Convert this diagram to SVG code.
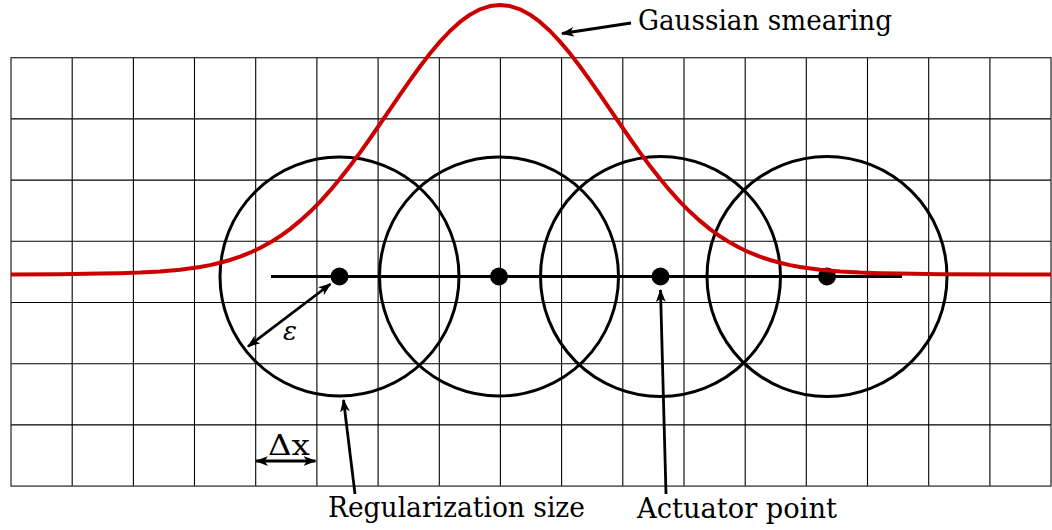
<svg xmlns="http://www.w3.org/2000/svg" width="1052" height="530" viewBox="0 0 1052 530">
  <style>
    .grid line { stroke: #000; stroke-width: 1.1; }
    .border { fill: none; stroke: #333; stroke-width: 1.3; }
    .circ { fill: none; stroke: #000; stroke-width: 3; }
    .axis { stroke: #000; stroke-width: 3; }
    .dot { fill: #000; }
    .gauss { fill: none; stroke: #cc0000; stroke-width: 4; stroke-linejoin: round; stroke-linecap: butt; }
    .arr { fill: none; stroke: #000; stroke-width: 2.8; }
    .lbl { font-family: "DejaVu Serif", serif; font-size: 27px; fill: #000; }
    .eps { font-family: "DejaVu Serif", serif; font-size: 26px; font-style: italic; fill: #000; }
  </style>
  <defs>
    <marker id="ah" viewBox="0 0 12 10" refX="11" refY="5" markerWidth="13" markerHeight="11" markerUnits="userSpaceOnUse" orient="auto-start-reverse">
      <path d="M0,0.5 L12,5 L0,9.5 L3,5 Z" fill="#000"/>
    </marker>
  </defs>

  <g id="grid" class="grid">
    <line x1="72.2" y1="57.7" x2="72.2" y2="486.1"/>
    <line x1="133.4" y1="57.7" x2="133.4" y2="486.1"/>
    <line x1="194.5" y1="57.7" x2="194.5" y2="486.1"/>
    <line x1="255.7" y1="57.7" x2="255.7" y2="486.1"/>
    <line x1="316.9" y1="57.7" x2="316.9" y2="486.1"/>
    <line x1="378.1" y1="57.7" x2="378.1" y2="486.1"/>
    <line x1="439.3" y1="57.7" x2="439.3" y2="486.1"/>
    <line x1="500.4" y1="57.7" x2="500.4" y2="486.1"/>
    <line x1="561.6" y1="57.7" x2="561.6" y2="486.1"/>
    <line x1="622.8" y1="57.7" x2="622.8" y2="486.1"/>
    <line x1="684" y1="57.7" x2="684" y2="486.1"/>
    <line x1="745.2" y1="57.7" x2="745.2" y2="486.1"/>
    <line x1="806.3" y1="57.7" x2="806.3" y2="486.1"/>
    <line x1="867.5" y1="57.7" x2="867.5" y2="486.1"/>
    <line x1="928.7" y1="57.7" x2="928.7" y2="486.1"/>
    <line x1="989.9" y1="57.7" x2="989.9" y2="486.1"/>
    <line x1="11" y1="118.9" x2="1051" y2="118.9"/>
    <line x1="11" y1="180.1" x2="1051" y2="180.1"/>
    <line x1="11" y1="241.3" x2="1051" y2="241.3"/>
    <line x1="11" y1="302.5" x2="1051" y2="302.5"/>
    <line x1="11" y1="363.7" x2="1051" y2="363.7"/>
    <line x1="11" y1="424.9" x2="1051" y2="424.9"/>
    <rect class="border" x="11" y="57.7" width="1040" height="428.4"/>
  </g>

  <g id="regions">
    <circle id="circle1" class="circ" cx="339.5" cy="276.5" r="119.5"/>
    <circle id="circle2" class="circ" cx="499" cy="276.5" r="119.5"/>
    <circle id="circle3" class="circ" cx="660.5" cy="276.5" r="120"/>
    <circle id="circle4" class="circ" cx="827" cy="276.5" r="120"/>
  </g>

  <g id="actuator-line">
    <line class="axis" x1="271" y1="276.5" x2="902" y2="276.5"/>
  </g>

  <g id="actuators">
    <circle id="pt1" class="dot" cx="339.5" cy="276.5" r="9"/>
    <circle id="pt2" class="dot" cx="499" cy="276.5" r="9"/>
    <circle id="pt3" class="dot" cx="660.5" cy="276.5" r="9"/>
    <circle id="pt4" class="dot" cx="827" cy="276.5" r="9"/>
  </g>

  <g id="gaussian">
    <path class="gauss" d="M11,274.5 L60,274.3 L100,273.6 L120,273.2 L140,272.6 L160,271.5 L180,269.8 L200,267 L210,265.1 L220,262.8 L230,260 L240,256.7 L250,252.7 L260,248 L270,242.6 L280,236.3 L290,229.1 L300,220.9 L310,211.8 L320,201.8 L330,190.7 L340,178.8 L350,166 L360,152.6 L370,138.5 L380,124 L390,109.4 L400,94.7 L410,80.4 L420,66.5 L430,53.5 L440,41.6 L450,31 L460,21.9 L470,14.7 L480,9.3 L490,6.1 L500,5 L510,6.1 L520,9.3 L530,14.7 L540,21.9 L550,31 L560,41.6 L570,53.5 L580,66.5 L590,80.4 L600,94.7 L610,109.4 L620,124 L630,138.5 L640,152.6 L650,166 L660,178.8 L670,190.7 L680,201.8 L690,211.8 L700,220.9 L710,229.1 L720,236.3 L730,242.6 L740,248 L750,252.7 L760,256.7 L770,260 L780,262.8 L790,265.1 L800,267 L820,269.8 L840,271.5 L860,272.6 L880,273.2 L900,273.6 L940,274.3 L1051,274.5"/>
  </g>

  <g id="connectors">
    <line id="arr-gauss" class="arr" x1="631" y1="23" x2="562" y2="33.5" marker-end="url(#ah)"/>
    <line id="arr-eps" class="arr" x1="248" y1="346.5" x2="330.5" y2="284" marker-start="url(#ah)" marker-end="url(#ah)"/>
    <line id="arr-dx" class="arr" x1="256" y1="461" x2="315.5" y2="461" marker-start="url(#ah)" marker-end="url(#ah)"/>
    <line id="arr-reg" class="arr" x1="355" y1="494" x2="343.5" y2="400" marker-end="url(#ah)"/>
    <line id="arr-act" class="arr" x1="666" y1="494" x2="660.5" y2="290" marker-end="url(#ah)"/>
  </g>

  <g id="labels">
    <text id="lbl-gauss" class="lbl" x="638" y="30" textLength="254" lengthAdjust="spacingAndGlyphs">Gaussian smearing</text>
    <text id="lbl-eps" class="eps" x="283" y="339.5">ε</text>
    <text id="lbl-dx" class="lbl" x="268" y="454.5" textLength="42" lengthAdjust="spacingAndGlyphs">Δx</text>
    <text id="lbl-reg" class="lbl" x="328" y="517" textLength="257" lengthAdjust="spacingAndGlyphs">Regularization size</text>
    <text id="lbl-act" class="lbl" x="637" y="518" textLength="200" lengthAdjust="spacingAndGlyphs">Actuator point</text>
  </g>
</svg>
